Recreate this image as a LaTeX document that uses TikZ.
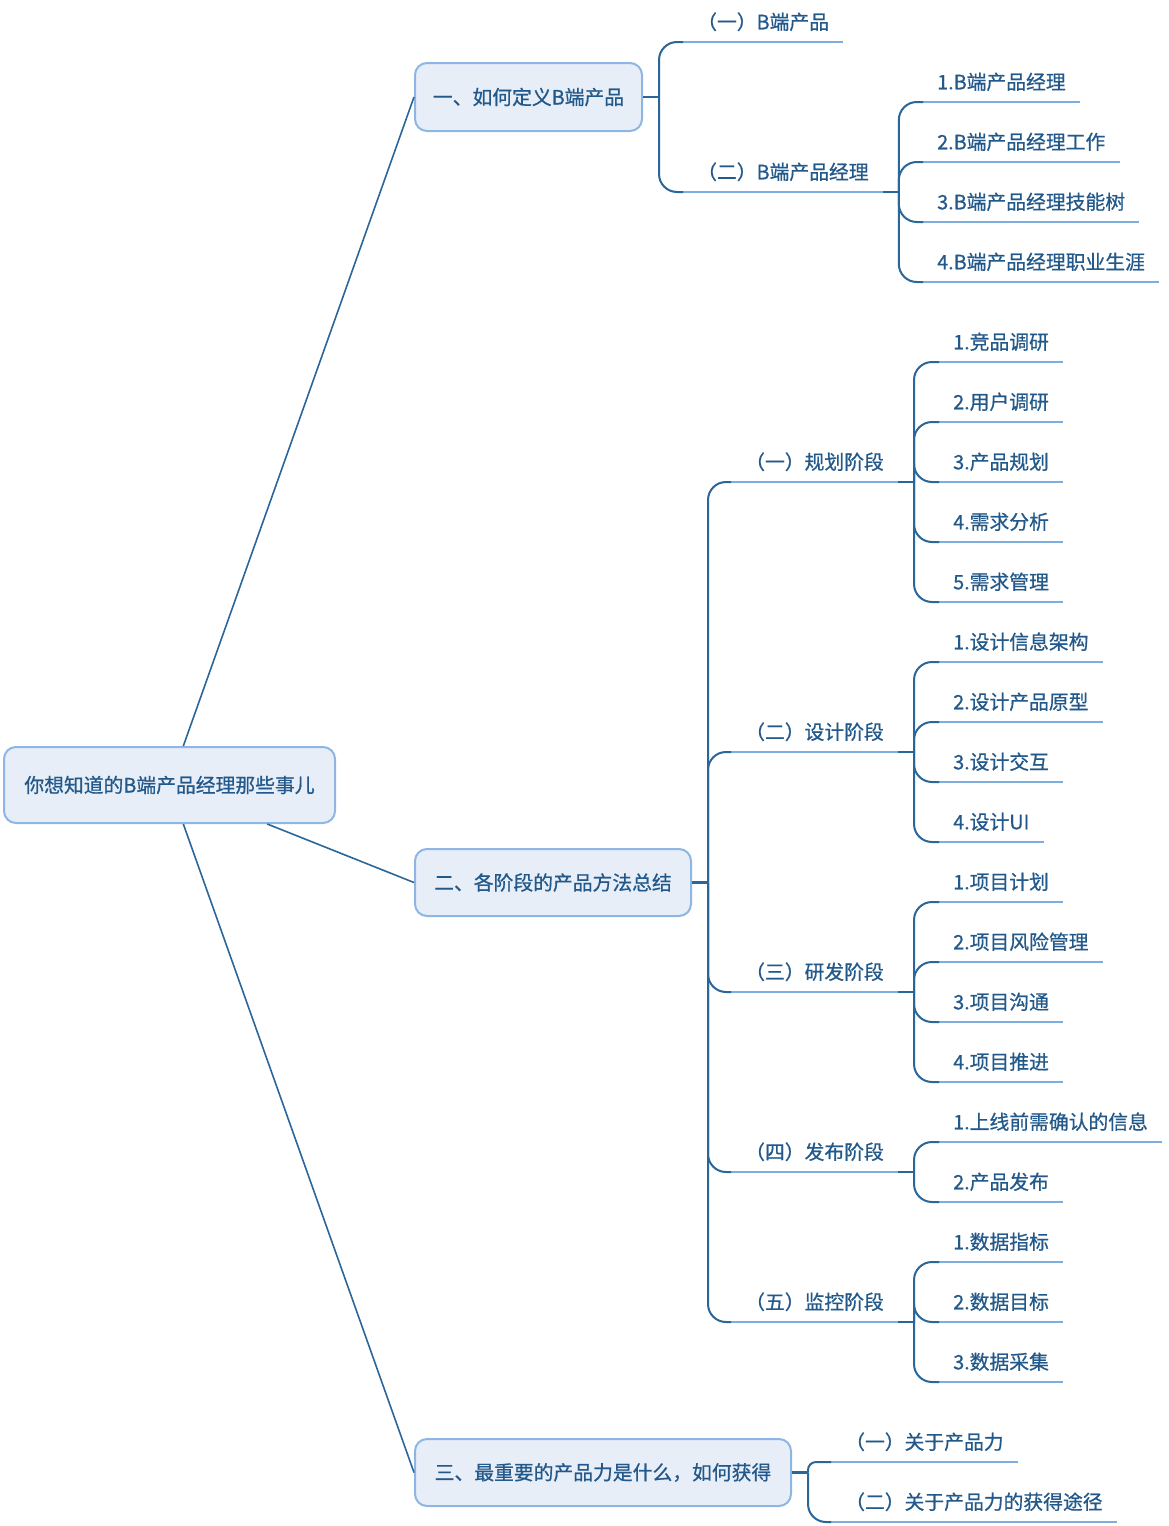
\documentclass[tikz,border=0pt]{standalone}
\usepackage{fontspec}
\setmainfont{Noto Sans CJK SC}[FakeBold=0.7]
\usetikzlibrary{positioning}
\definecolor{ink}{HTML}{22598A}
\definecolor{wire}{HTML}{2B669A}
\definecolor{rule}{HTML}{7DAEDE}
\definecolor{boxfill}{HTML}{E8EEF8}
\definecolor{boxline}{HTML}{8DB6E4}
\tikzset{
    txt/.style={text=ink, font=\fontsize{19.8}{24}\selectfont},
    topic/.style={txt, draw=boxline, fill=boxfill, line width=2pt, rounded corners=12pt, minimum height=67pt},
    leaf/.style={txt, anchor=south west, inner xsep=14pt, inner ysep=8.5pt, text height=15.5pt, text depth=4pt},
    link/.style={wire, line width=1.6pt},
    stub/.style={wire, line width=2.2pt},
    branch/.style={wire, line width=2pt, rounded corners=18pt},
    under/.style={rule, line width=2pt}
}
\begin{document}
\begin{tikzpicture}[x=1pt, y=-1pt]
                \useasboundingbox (0,0) rectangle (1168,1526);
                % main topics
                \node[topic, minimum width=331pt, minimum height=76pt] (root) at (169.5,785) {你想知道的B端产品经理那些事儿};
                \node[topic, minimum width=227pt, minimum height=68pt] (t1) at (528.5,97) {一、如何定义B端产品};
                \node[topic, minimum width=276pt] (t2) at (553,882.5) {二、各阶段的产品方法总结};
                \node[topic, minimum width=376pt] (t3) at (603,1472.5) {三、最重要的产品力是什么，如何获得};
                \draw (root)--(t1.west) [link];
                \draw (root)--(t2.west) [link];
                \draw (root)--(t3.west) [link];
                % branch one
                \path (t1.east) ++(16,0) coordinate (j1);
                \draw (t1.east)--(j1) [stub];
                \foreach \n/\y/\t in {1/42/（一）B端产品, 2/192/（二）B端产品经理} {
                    \node[leaf] (c1\n) at (683,\y) {\t};
                    \draw (c1\n.south west)--(c1\n.south east) [under];
                    \draw[branch] (j1) |- (c1\n.south west);
                }
                \path (c12.south east) ++(16,0) coordinate (j12);
                \draw (c12.south east)--(j12) [stub];
                \foreach \n/\y/\t in {1/102/1.B端产品经理, 2/162/2.B端产品经理工作, 3/222/3.B端产品经理技能树, 4/282/4.B端产品经理职业生涯} {
                    \node[leaf] (m\n) at (923,\y) {\t};
                    \draw (m\n.south west)--(m\n.south east) [under];
                    \draw[branch] (j12) |- (m\n.south west);
                }
                % branch two: stages
                \path (t2.east) ++(16,0) coordinate (j2);
                \draw (t2.east)--(j2) [stub];
                \foreach \n/\y/\t in {1/482/（一）规划阶段, 2/752/（二）设计阶段, 3/992/（三）研发阶段, 4/1172/（四）发布阶段, 5/1322/（五）监控阶段} {
                    \node[leaf] (s\n) at (731,\y) {\t};
                    \draw (s\n.south west)--(s\n.south east) [under];
                    \draw[branch] (j2) |- (s\n.south west);
                    \path (s\n.south east) ++(16,0) coordinate (js\n);
                    \draw (s\n.south east)--(js\n) [stub];
                }
                \foreach \n/\y/\t in {1/362/1.竞品调研, 2/422/2.用户调研, 3/482/3.产品规划, 4/542/4.需求分析, 5/602/5.需求管理} {
                    \node[leaf] (p\n) at (939,\y) {\t};
                    \draw (p\n.south west)--(p\n.south east) [under];
                    \draw[branch] (js1) |- (p\n.south west);
                }
                \foreach \n/\y/\t in {1/662/1.设计信息架构, 2/722/2.设计产品原型, 3/782/3.设计交互, 4/842/4.设计UI} {
                    \node[leaf] (d\n) at (939,\y) {\t};
                    \draw (d\n.south west)--(d\n.south east) [under];
                    \draw[branch] (js2) |- (d\n.south west);
                }
                \foreach \n/\y/\t in {1/902/1.项目计划, 2/962/2.项目风险管理, 3/1022/3.项目沟通, 4/1082/4.项目推进} {
                    \node[leaf] (r\n) at (939,\y) {\t};
                    \draw (r\n.south west)--(r\n.south east) [under];
                    \draw[branch] (js3) |- (r\n.south west);
                }
                \foreach \n/\y/\t in {1/1142/1.上线前需确认的信息, 2/1202/2.产品发布} {
                    \node[leaf] (f\n) at (939,\y) {\t};
                    \draw (f\n.south west)--(f\n.south east) [under];
                    \draw[branch] (js4) |- (f\n.south west);
                }
                \foreach \n/\y/\t in {1/1262/1.数据指标, 2/1322/2.数据目标, 3/1382/3.数据采集} {
                    \node[leaf] (k\n) at (939,\y) {\t};
                    \draw (k\n.south west)--(k\n.south east) [under];
                    \draw[branch] (js5) |- (k\n.south west);
                }
                % branch three
                \path (t3.east) ++(16,0) coordinate (j3);
                \draw (t3.east)--(j3) [stub];
                \node[leaf] (g1) at (831,1462) {（一）关于产品力};
                \node[leaf] (g2) at (831,1522) {（二）关于产品力的获得途径};
                \draw (g1.south west)--(g1.south east) [under];
                \draw (g2.south west)--(g2.south east) [under];
                \draw[branch, rounded corners=8pt] (j3) |- (g1.south west);
                \draw[branch] (j3) |- (g2.south west);
\end{tikzpicture}
\end{document}
